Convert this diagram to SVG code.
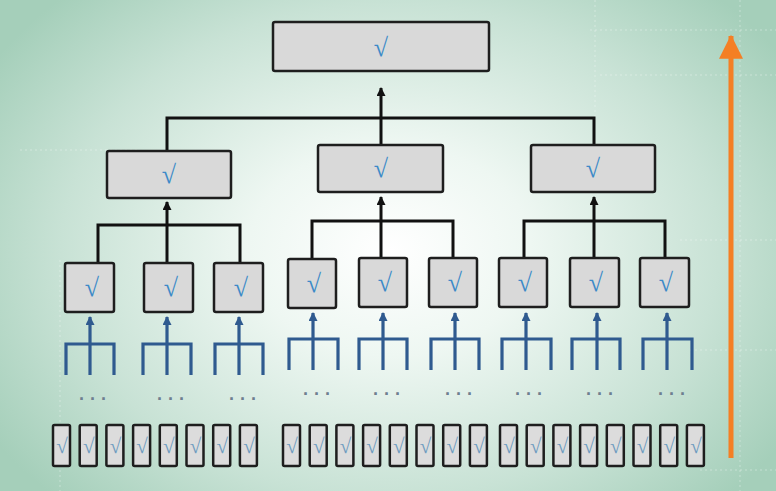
<svg xmlns="http://www.w3.org/2000/svg" width="776" height="491" viewBox="0 0 776 491">
<defs>
<radialGradient id="bg" cx="390" cy="250" r="470" gradientUnits="userSpaceOnUse" gradientTransform="translate(390 250) scale(1 0.75) translate(-390 -250)">
<stop offset="0" stop-color="#ffffff"/>
<stop offset="0.3" stop-color="#eef7f2"/>
<stop offset="0.7" stop-color="#c8e2d5"/>
<stop offset="1" stop-color="#a5cfba"/>
</radialGradient>
<marker id="ak" viewBox="0 0 10 10" refX="9" refY="5" markerWidth="10" markerHeight="9" markerUnits="userSpaceOnUse" orient="auto">
<path d="M0,0 L10,5 L0,10 Z" fill="#111"/>
</marker>
<marker id="ab" viewBox="0 0 10 10" refX="9" refY="5" markerWidth="10" markerHeight="9" markerUnits="userSpaceOnUse" orient="auto">
<path d="M0,0 L10,5 L0,10 Z" fill="#2f5a8f"/>
</marker>
<marker id="ao" viewBox="0 0 10 10" refX="9.5" refY="5" markerWidth="28" markerHeight="24" markerUnits="userSpaceOnUse" orient="auto">
<path d="M0,0 L10,5 L0,10 Z" fill="#f47f24"/>
</marker>
</defs>
<style>
.bx{fill:#d9d9d9;stroke:#1e1e1e;stroke-width:2.5}
.sb{fill:#dcdcdc;stroke:#1e1e1e;stroke-width:2.5}
.ck{font-family:"Liberation Serif","DejaVu Serif",serif;fill:#3d8bc8;text-anchor:middle}
.cks{font-family:"Liberation Serif","DejaVu Serif",serif;fill:#6f9cc0;text-anchor:middle;font-size:21px}
.cn{fill:none;stroke:#111;stroke-width:3}
.bf{fill:none;stroke:#2f5a8f;stroke-width:3.2}
.dt{font-family:"Liberation Sans",Arial,sans-serif;font-size:18px;font-weight:bold;fill:#6e7f90;text-anchor:middle}
.gl{stroke:#ffffff;stroke-opacity:0.35;stroke-width:1;fill:none}
</style>
<rect x="0" y="0" width="776" height="491" fill="url(#bg)"/>
<g id="grid">
<path class="gl" d="M595,0 V120 M590,30 H776 M600,75 H776 M680,240 H776 M690,350 H776 M700,470 H776 M20,150 H140 M60,260 V491 M740,0 V491" stroke-dasharray="2 3"/>
</g>

<g id="connectors">
<path class="cn" d="M167,151 V118 H594 V145"/>
<path class="cn" d="M381,145 V88" marker-end="url(#ak)"/>
<path class="cn" d="M98,263 V225 H240 V263"/>
<path class="cn" d="M167,263 V202" marker-end="url(#ak)"/>
<path class="cn" d="M312,258 V221 H453 V258"/>
<path class="cn" d="M381,258 V197" marker-end="url(#ak)"/>
<path class="cn" d="M524,258 V221 H665 V258"/>
<path class="cn" d="M594,258 V197" marker-end="url(#ak)"/>

<path class="bf" d="M66,375 V344 H114 V375"/><path class="bf" d="M90,375 V317" marker-end="url(#ab)"/>
<path class="bf" d="M143,375 V344 H191 V375"/><path class="bf" d="M167,375 V317" marker-end="url(#ab)"/>
<path class="bf" d="M215,375 V344 H263 V375"/><path class="bf" d="M239,375 V317" marker-end="url(#ab)"/>
<path class="bf" d="M289,370 V339 H338 V370"/><path class="bf" d="M313,370 V313" marker-end="url(#ab)"/>
<path class="bf" d="M359,370 V339 H407 V370"/><path class="bf" d="M383,370 V313" marker-end="url(#ab)"/>
<path class="bf" d="M431,370 V339 H479 V370"/><path class="bf" d="M455,370 V313" marker-end="url(#ab)"/>
<path class="bf" d="M502,370 V339 H551 V370"/><path class="bf" d="M526,370 V313" marker-end="url(#ab)"/>
<path class="bf" d="M572,370 V339 H620 V370"/><path class="bf" d="M597,370 V313" marker-end="url(#ab)"/>
<path class="bf" d="M643,370 V339 H692 V370"/><path class="bf" d="M667,370 V313" marker-end="url(#ab)"/>

<path d="M731,458 V36" stroke="#f47f24" stroke-width="5" fill="none" marker-end="url(#ao)"/>
</g>

<g id="root"><rect class="bx" x="273" y="22" width="216" height="49" rx="2"/><text class="ck" x="381" y="56" font-size="26">√</text></g>

<g id="mid-left"><rect class="bx" x="107" y="151" width="124" height="47" rx="2"/><text class="ck" x="169" y="183" font-size="26">√</text></g>
<g id="mid-center"><rect class="bx" x="318" y="145" width="125" height="47" rx="2"/><text class="ck" x="381" y="177" font-size="26">√</text></g>
<g id="mid-right"><rect class="bx" x="531" y="145" width="124" height="47" rx="2"/><text class="ck" x="593" y="177" font-size="26">√</text></g>

<g id="l1"><rect class="bx" x="65" y="263" width="49" height="49" rx="2"/><text class="ck" x="92" y="296" font-size="26">√</text></g>
<g id="l2"><rect class="bx" x="144" y="263" width="49" height="49" rx="2"/><text class="ck" x="171" y="296" font-size="26">√</text></g>
<g id="l3"><rect class="bx" x="214" y="263" width="49" height="49" rx="2"/><text class="ck" x="241" y="296" font-size="26">√</text></g>
<g id="l4"><rect class="bx" x="288" y="259" width="48" height="49" rx="2"/><text class="ck" x="314" y="292" font-size="26">√</text></g>
<g id="l5"><rect class="bx" x="359" y="258" width="48" height="49" rx="2"/><text class="ck" x="385" y="291" font-size="26">√</text></g>
<g id="l6"><rect class="bx" x="429" y="258" width="48" height="49" rx="2"/><text class="ck" x="455" y="291" font-size="26">√</text></g>
<g id="l7"><rect class="bx" x="499" y="258" width="48" height="49" rx="2"/><text class="ck" x="525" y="291" font-size="26">√</text></g>
<g id="l8"><rect class="bx" x="570" y="258" width="49" height="49" rx="2"/><text class="ck" x="596" y="291" font-size="26">√</text></g>
<g id="l9"><rect class="bx" x="640" y="258" width="49" height="49" rx="2"/><text class="ck" x="666" y="291" font-size="26">√</text></g>

<g id="dots">
<text class="dt" x="93" y="405">· · ·</text>
<text class="dt" x="171" y="405">· · ·</text>
<text class="dt" x="243" y="405">· · ·</text>
<text class="dt" x="317" y="400">· · ·</text>
<text class="dt" x="387" y="400">· · ·</text>
<text class="dt" x="459" y="400">· · ·</text>
<text class="dt" x="529" y="400">· · ·</text>
<text class="dt" x="600" y="400">· · ·</text>
<text class="dt" x="672" y="400">· · ·</text>
</g>

<g id="leaves">
<g id="b1"><rect class="sb" x="53" y="425" width="17" height="41" rx="1.5"/><text class="cks" x="62" y="453">√</text></g>
<g id="b2"><rect class="sb" x="79.7" y="425" width="17" height="41" rx="1.5"/><text class="cks" x="88.7" y="453">√</text></g>
<g id="b3"><rect class="sb" x="106.4" y="425" width="17" height="41" rx="1.5"/><text class="cks" x="115.4" y="453">√</text></g>
<g id="b4"><rect class="sb" x="133.1" y="425" width="17" height="41" rx="1.5"/><text class="cks" x="142.1" y="453">√</text></g>
<g id="b5"><rect class="sb" x="159.8" y="425" width="17" height="41" rx="1.5"/><text class="cks" x="168.8" y="453">√</text></g>
<g id="b6"><rect class="sb" x="186.5" y="425" width="17" height="41" rx="1.5"/><text class="cks" x="195.5" y="453">√</text></g>
<g id="b7"><rect class="sb" x="213.2" y="425" width="17" height="41" rx="1.5"/><text class="cks" x="222.2" y="453">√</text></g>
<g id="b8"><rect class="sb" x="239.9" y="425" width="17" height="41" rx="1.5"/><text class="cks" x="248.9" y="453">√</text></g>
<g id="b9"><rect class="sb" x="283" y="425" width="17" height="41" rx="1.5"/><text class="cks" x="292" y="453">√</text></g>
<g id="b10"><rect class="sb" x="309.7" y="425" width="17" height="41" rx="1.5"/><text class="cks" x="318.7" y="453">√</text></g>
<g id="b11"><rect class="sb" x="336.4" y="425" width="17" height="41" rx="1.5"/><text class="cks" x="345.4" y="453">√</text></g>
<g id="b12"><rect class="sb" x="363.1" y="425" width="17" height="41" rx="1.5"/><text class="cks" x="372.1" y="453">√</text></g>
<g id="b13"><rect class="sb" x="389.8" y="425" width="17" height="41" rx="1.5"/><text class="cks" x="398.8" y="453">√</text></g>
<g id="b14"><rect class="sb" x="416.5" y="425" width="17" height="41" rx="1.5"/><text class="cks" x="425.5" y="453">√</text></g>
<g id="b15"><rect class="sb" x="443.2" y="425" width="17" height="41" rx="1.5"/><text class="cks" x="452.2" y="453">√</text></g>
<g id="b16"><rect class="sb" x="469.9" y="425" width="17" height="41" rx="1.5"/><text class="cks" x="478.9" y="453">√</text></g>
<g id="b17"><rect class="sb" x="500" y="425" width="17" height="41" rx="1.5"/><text class="cks" x="509" y="453">√</text></g>
<g id="b18"><rect class="sb" x="526.7" y="425" width="17" height="41" rx="1.5"/><text class="cks" x="535.7" y="453">√</text></g>
<g id="b19"><rect class="sb" x="553.4" y="425" width="17" height="41" rx="1.5"/><text class="cks" x="562.4" y="453">√</text></g>
<g id="b20"><rect class="sb" x="580.1" y="425" width="17" height="41" rx="1.5"/><text class="cks" x="589.1" y="453">√</text></g>
<g id="b21"><rect class="sb" x="606.8" y="425" width="17" height="41" rx="1.5"/><text class="cks" x="615.8" y="453">√</text></g>
<g id="b22"><rect class="sb" x="633.5" y="425" width="17" height="41" rx="1.5"/><text class="cks" x="642.5" y="453">√</text></g>
<g id="b23"><rect class="sb" x="660.2" y="425" width="17" height="41" rx="1.5"/><text class="cks" x="669.2" y="453">√</text></g>
<g id="b24"><rect class="sb" x="686.9" y="425" width="17" height="41" rx="1.5"/><text class="cks" x="695.9" y="453">√</text></g>
</g>
</svg>
